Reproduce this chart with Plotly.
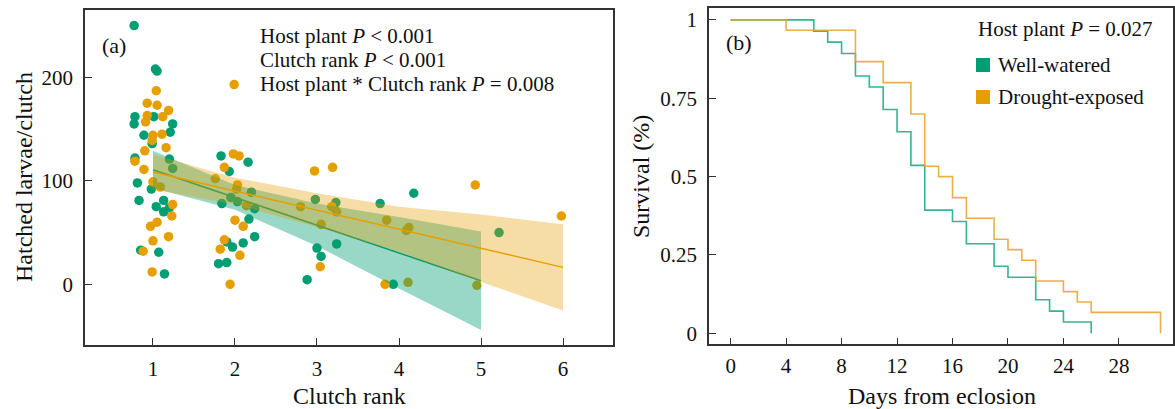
import plotly.graph_objects as go

# ---------------- Panel (a) data ----------------
ww_x = [0.77, 1.03, 1.05, 0.78, 0.77, 1.01, 0.89, 0.99, 1.24, 1.21, 0.78, 1.20, 1.24,
        0.81, 0.98, 0.83, 1.13, 1.04, 1.20, 1.13, 0.85, 1.07, 1.14,
        1.83, 2.16, 1.93, 2.20, 1.84, 2.24, 2.17, 2.24, 1.90, 1.97, 2.10, 1.80, 1.90, 1.95, 2.03,
        2.98, 3.23, 3.77, 4.18, 5.22, 3.00, 3.05, 3.24, 2.88, 3.93]
ww_y = [250, 208, 206, 162, 155, 162, 144, 136, 155, 147, 122, 121, 112,
        98, 92, 81, 81, 75, 74, 70, 33, 31, 10,
        124, 118, 109, 89, 78, 73, 63, 46, 41, 36, 40, 20, 21, 84, 80,
        82, 79, 78, 88, 50, 35, 27, 39, 4.5, 0]

dr_x = [1.04, 0.93, 1.05, 1.19, 0.93, 0.91, 1.12, 1.00, 0.99, 1.11, 1.16, 0.90, 0.78, 0.89,
        1.00, 1.09, 1.24, 1.23, 1.05, 0.97, 1.19, 1.00, 0.88, 0.99,
        1.99, 1.98, 2.05, 1.87, 1.76, 2.03, 2.02, 2.14, 2.00, 2.10, 1.87, 1.82, 2.06, 1.94,
        2.97, 3.19, 4.93, 5.98, 2.80, 3.18, 3.24, 3.05, 3.85, 4.09, 4.12, 3.04, 3.83, 4.11, 4.95]
dr_y = [187, 175, 173, 168, 163, 157, 162, 144, 139, 145, 132, 129, 119, 111,
        99, 94, 77, 66, 60, 56, 46, 42, 32, 12,
        193, 126, 124, 113, 102, 96, 92, 76, 62, 56, 43, 34, 28, 0,
        109.5, 113, 96, 66, 75, 75, 70, 58, 62, 52, 55, 17, 0, 2, -1]

# fitted lines and confidence bands
ww_fit_x = [1, 2, 3, 4, 5]
ww_fit = [110.7, 83.9, 57.1, 30.3, 3.5]
ww_hi = [129, 96, 78, 65, 51]
ww_lo = [93, 72, 37, -4, -44]

dr_fit_x = [1, 2, 3, 4, 5, 6]
dr_fit = [108.5, 90.1, 71.7, 53.3, 34.9, 16.4]
dr_hi = [125.5, 103, 88, 75, 67.5, 58]
dr_lo = [91.5, 77.2, 55.4, 31.6, 2.3, -25.2]

# ---------------- Panel (b) data ----------------
ww_days = [0, 6, 7, 8, 9, 10, 11, 12, 13, 14, 16, 17, 19, 20, 22, 23, 24, 26]
ww_surv = [1, 0.964, 0.929, 0.893, 0.821, 0.786, 0.714, 0.643, 0.536, 0.393,
           0.357, 0.286, 0.214, 0.179, 0.107, 0.071, 0.036, 0]
dr_days = [0, 4, 9, 11, 13, 14, 15, 16, 17, 19, 20, 21, 22, 24, 25, 26, 31]
dr_surv = [1, 0.967, 0.867, 0.8, 0.7, 0.533, 0.5, 0.433, 0.367, 0.3, 0.267,
           0.233, 0.167, 0.133, 0.1, 0.067, 0]

a_xticks = [1, 2, 3, 4, 5, 6]
a_yticks = [0, 100, 200]
b_xticks = [0, 4, 8, 12, 16, 20, 24, 28]
b_yticks = [0, 0.25, 0.5, 0.75, 1]
b_yticklabels = ["0", "0.25", "0.5", "0.75", "1"]

GREEN = "#009E73"
ORANGE = "#E69F00"
FONT = "Liberation Serif"
W, H = 1175, 409


def px(x):
    return x / W


def py(y):
    return 1 - y / H


fig = go.Figure()

# points (drawn under the bands)
fig.add_trace(go.Scatter(x=ww_x, y=ww_y, mode="markers", xaxis="x", yaxis="y",
                         marker=dict(size=9.5, color=GREEN), showlegend=False))
fig.add_trace(go.Scatter(x=dr_x, y=dr_y, mode="markers", xaxis="x", yaxis="y",
                         marker=dict(size=9.5, color=ORANGE), showlegend=False))

# green band + line
fig.add_trace(go.Scatter(x=ww_fit_x + ww_fit_x[::-1], y=ww_hi + ww_lo[::-1],
                         fill="toself", fillcolor="rgba(0,158,115,0.4)",
                         line=dict(width=0), mode="lines", xaxis="x", yaxis="y",
                         showlegend=False, hoverinfo="skip"))
fig.add_trace(go.Scatter(x=ww_fit_x, y=ww_fit, mode="lines", xaxis="x", yaxis="y",
                         line=dict(color="#109A60", width=1.5), showlegend=False))
# orange band + line
fig.add_trace(go.Scatter(x=dr_fit_x + dr_fit_x[::-1], y=dr_hi + dr_lo[::-1],
                         fill="toself", fillcolor="rgba(230,159,0,0.35)",
                         line=dict(width=0), mode="lines", xaxis="x", yaxis="y",
                         showlegend=False, hoverinfo="skip"))
fig.add_trace(go.Scatter(x=dr_fit_x, y=dr_fit, mode="lines", xaxis="x", yaxis="y",
                         line=dict(color=ORANGE, width=1.5), showlegend=False))

# survival curves
fig.add_trace(go.Scatter(x=ww_days, y=ww_surv, mode="lines", line_shape="hv",
                         xaxis="x2", yaxis="y2", opacity=0.85,
                         line=dict(color="#12A97F", width=1.6), showlegend=False))
fig.add_trace(go.Scatter(x=dr_days, y=dr_surv, mode="lines", line_shape="hv",
                         xaxis="x2", yaxis="y2", opacity=0.85,
                         line=dict(color="#E8A22A", width=1.6), showlegend=False))

axis_common = dict(showline=True, linecolor="#333333", linewidth=1.5, mirror=True,
                   ticks="inside", ticklen=7, tickwidth=1.3, tickcolor="#333333",
                   showgrid=False, zeroline=False,
                   tickfont=dict(family=FONT, size=21, color="#111111"))

fig.update_layout(
    width=W, height=H,
    margin=dict(l=0, r=0, t=0, b=0),
    paper_bgcolor="white", plot_bgcolor="white",
    font=dict(family=FONT, color="#111111"),
    xaxis=dict(domain=[px(85), px(612.7)], range=[0.171, 6.606],
               tickvals=a_xticks, anchor="y", ticklabelstandoff=4, **axis_common),
    yaxis=dict(domain=[py(345), py(10)], range=[-58.6, 265],
               tickvals=a_yticks, anchor="x", ticklabelstandoff=6, **axis_common),
    xaxis2=dict(domain=[px(709), px(1173)], range=[-1.56, 31.9],
                tickvals=b_xticks, anchor="y2", ticklabelstandoff=2, **axis_common),
    yaxis2=dict(domain=[py(344.3), py(8.3)], range=[-0.035, 1.037],
                tickvals=b_yticks, ticktext=b_yticklabels,
                anchor="x2", ticklabelstandoff=6, **axis_common),
)

ann_font = dict(family=FONT, size=21, color="#111111")
title_font = dict(family=FONT, size=24, color="#111111")
annotations = [
    dict(text="(a)", x=px(100), y=py(45), xanchor="left", yanchor="middle",
         font=dict(family=FONT, size=22, color="#111111")),
    dict(text="(b)", x=px(724), y=py(43), xanchor="left", yanchor="middle",
         font=dict(family=FONT, size=22, color="#111111")),
    dict(text="Host plant <i>P</i> < 0.001", x=px(258), y=py(36),
         xanchor="left", yanchor="middle", font=ann_font),
    dict(text="Clutch rank <i>P</i> < 0.001", x=px(258), y=py(60),
         xanchor="left", yanchor="middle", font=ann_font),
    dict(text="Host plant * Clutch rank <i>P</i> = 0.008", x=px(258), y=py(84),
         xanchor="left", yanchor="middle", font=ann_font),
    dict(text="Host plant <i>P</i> = 0.027", x=px(976), y=py(29),
         xanchor="left", yanchor="middle", font=ann_font),
    dict(text="Well-watered", x=px(996), y=py(65),
         xanchor="left", yanchor="middle", font=ann_font),
    dict(text="Drought-exposed", x=px(996), y=py(97),
         xanchor="left", yanchor="middle", font=ann_font),
    # axis titles
    dict(text="Clutch rank", x=px(349), y=py(396), xanchor="center", yanchor="middle",
         font=title_font),
    dict(text="Hatched larvae/clutch", x=px(24), y=py(177), xanchor="center",
         yanchor="middle", textangle=-90, font=title_font),
    dict(text="Days from eclosion", x=px(942), y=py(396), xanchor="center",
         yanchor="middle", font=title_font),
    dict(text="Survival (%)", x=px(641), y=py(177), xanchor="center",
         yanchor="middle", textangle=-90, font=title_font),
]
for a in annotations:
    a.update(xref="paper", yref="paper", showarrow=False)
fig.update_layout(annotations=annotations)

fig.update_layout(shapes=[
    dict(type="rect", xref="paper", yref="paper",
         x0=px(976), x1=px(990), y0=py(72), y1=py(58),
         fillcolor=GREEN, line=dict(width=0)),
    dict(type="rect", xref="paper", yref="paper",
         x0=px(976), x1=px(990), y0=py(104), y1=py(90),
         fillcolor=ORANGE, line=dict(width=0)),
])

fig.write_html("out.html", config={"displayModeBar": False},
               post_script="document.body.style.margin='0';"
                           "document.body.style.overflow='hidden';")
